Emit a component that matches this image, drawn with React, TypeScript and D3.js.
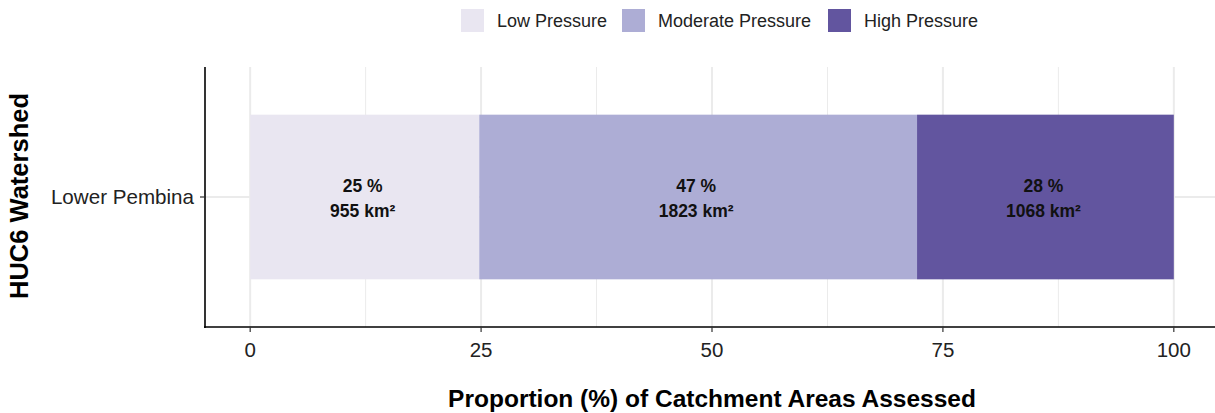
import React from "react";
import * as d3 from "d3";

const categories = ["Lower Pembina"];
const pressureLevels = ["Low Pressure", "Moderate Pressure", "High Pressure"];
const percentValues = [24.8, 47.4, 27.8];
const areaValues = [955, 1823, 1068];
const percentLabels = ["25 %", "47 %", "28 %"];
const xTicks = [0, 25, 50, 75, 100];
const xMinor = [12.5, 37.5, 62.5, 87.5];
const colors = ["#E9E6F1", "#ADADD5", "#62559F"];

const W = 1215;
const H = 413;
const FONT = "'Liberation Sans', Arial, Helvetica, sans-serif";

export default function App() {
  const x = d3.scaleLinear().domain([-5, 105]).range([204, 1220]);
  const y = d3.scaleLinear().domain([0.4, 1.6]).range([327, 67]);
  const panelTop = 67;
  const panelBottom = 327;
  const panelLeft = 204;
  const barHalf = 0.38;
  const catPos = 1;

  const stacked: { start: number; end: number; i: number }[] = [];
  let acc = 0;
  percentValues.forEach((v, i) => {
    stacked.push({ start: acc, end: acc + v, i });
    acc += v;
  });

  const legendX = [461, 622, 828];

  return (
    <svg
      width={W}
      height={H}
      style={{ position: "absolute", left: 0, top: 0, background: "#fff" }}
      fontFamily={FONT}
    >
      {/* grid */}
      {xMinor.map((t) => (
        <line key={"mi" + t} x1={x(t)} x2={x(t)} y1={panelTop} y2={panelBottom} stroke="#EBEBEB" strokeWidth={1} />
      ))}
      {xTicks.map((t) => (
        <line key={"ma" + t} x1={x(t)} x2={x(t)} y1={panelTop} y2={panelBottom} stroke="#EBEBEB" strokeWidth={2} />
      ))}
      <line x1={panelLeft} x2={W} y1={y(catPos)} y2={y(catPos)} stroke="#EBEBEB" strokeWidth={2} />

      {/* bars */}
      {stacked.map((s) => (
        <rect
          key={"b" + s.i}
          x={x(s.start)}
          y={y(catPos + barHalf)}
          width={x(s.end) - x(s.start)}
          height={y(catPos - barHalf) - y(catPos + barHalf)}
          fill={colors[s.i]}
        />
      ))}

      {/* labels */}
      {stacked.map((s) => {
        const cx = x((s.start + s.end) / 2) - 2;
        return (
          <text key={"l" + s.i} textAnchor="middle" fontWeight="bold" fontSize={17.5} fill="#111">
            <tspan x={cx} y={y(catPos) - 5}>{percentLabels[s.i]}</tspan>
            <tspan x={cx} y={y(catPos) + 20}>{areaValues[s.i] + " km²"}</tspan>
          </text>
        );
      })}

      {/* axes */}
      <line x1={panelLeft + 1} x2={panelLeft + 1} y1={panelTop} y2={panelBottom + 1} stroke="#000" strokeWidth={1.6} />
      <line x1={panelLeft} x2={W} y1={panelBottom} y2={panelBottom} stroke="#000" strokeWidth={1.6} />
      <line x1={panelLeft - 4} x2={panelLeft} y1={y(catPos)} y2={y(catPos)} stroke="#333" strokeWidth={1.2} />
      {categories.map((c) => (
        <text key={c} x={panelLeft - 10} y={y(catPos)} dy="0.35em" textAnchor="end" fontSize={20.6} fill="#222">
          {c}
        </text>
      ))}
      {xTicks.map((t) => (
        <g key={"t" + t}>
          <line x1={x(t)} x2={x(t)} y1={panelBottom} y2={panelBottom + 5} stroke="#333" strokeWidth={1.2} />
          <text x={x(t)} y={357} textAnchor="middle" fontSize={20.5} fill="#222">
            {t}
          </text>
        </g>
      ))}

      {/* titles */}
      <text x={712} y={407} textAnchor="middle" fontWeight="bold" fontSize={24.5} fill="#000">
        Proportion (%) of Catchment Areas Assessed
      </text>
      <text
        transform={`translate(28,196) rotate(-90)`}
        textAnchor="middle"
        fontWeight="bold"
        fontSize={25.5}
        fill="#000"
      >
        HUC6 Watershed
      </text>

      {/* legend */}
      {pressureLevels.map((p, i) => (
        <g key={p}>
          <rect x={legendX[i]} y={9} width={23} height={23} fill={colors[i]} />
          <text x={legendX[i] + 36} y={20.5} dy="0.35em" fontSize={18} fill="#222">
            {p}
          </text>
        </g>
      ))}
    </svg>
  );
}
